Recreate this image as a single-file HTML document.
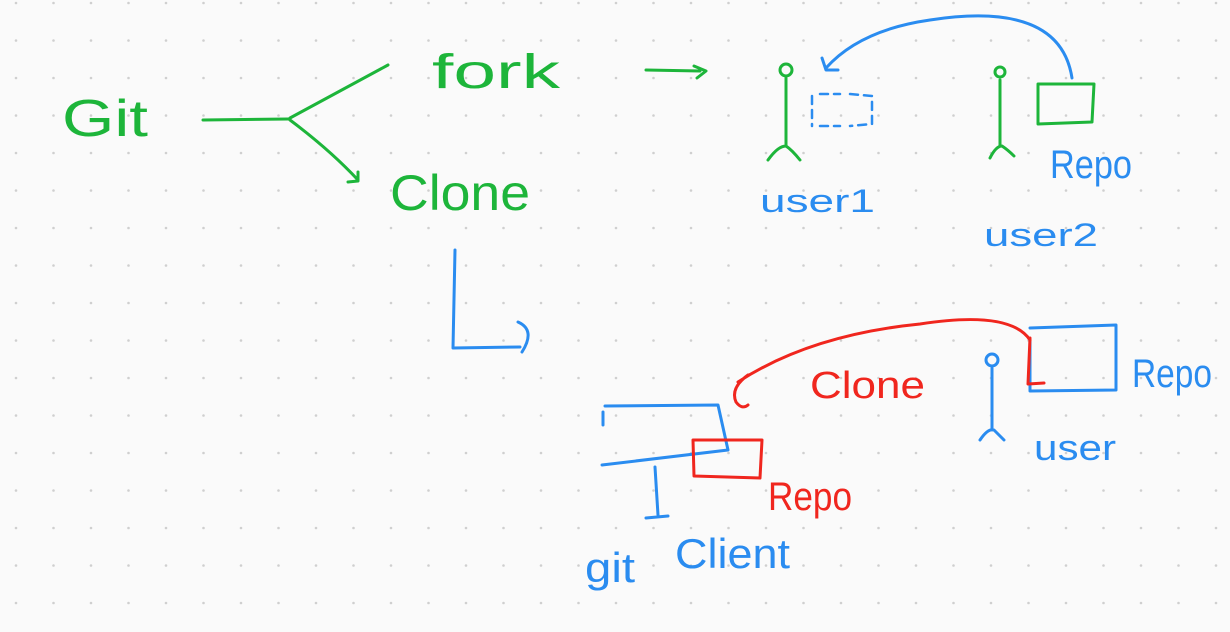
<!DOCTYPE html>
<html><head><style>
html,body{margin:0;padding:0;background:#fafafa;}
svg{display:block}
text{font-family:"Liberation Sans",sans-serif;}
</style></head><body>
<svg width="1230" height="632" viewBox="0 0 1230 632" xmlns="http://www.w3.org/2000/svg">
<defs>
<pattern id="d" x="-2" y="-15" width="37.5" height="37.5" patternUnits="userSpaceOnUse">
<circle cx="18" cy="18" r="1.3" fill="#cfcfcf"/></pattern>
</defs>
<rect width="1230" height="632" fill="url(#d)"/>
<g fill="none" stroke-linecap="round" stroke-linejoin="round" stroke-width="3">
<g stroke="#1db53a">
<path d="M203 120 L288 119 M290 118 L388 65 M290 120 Q330 150 358 180 M348 182 L358 181 L358 172"/>
<path d="M646 70 L700 71 M694 66 L706 71 L697 78"/>
<circle cx="786" cy="70" r="6"/>
<path d="M786 78 L786 146 M768 160 Q778 146 786 146 Q792 150 800 160"/>
<circle cx="1000" cy="72" r="5"/>
<path d="M1000 80 L1000 146 M990 158 Q996 146 1002 146 Q1008 150 1014 156"/>
<path d="M1038 84 L1094 84 L1092 122 L1038 124 Z"/>
</g>
<g stroke="#2a8cf0">
<path d="M455 250 L453 348 L520 347 M518 322 Q536 330 522 352"/>
<path d="M1072 78 Q1060 0 930 20 Q860 30 826 68 M822 58 L826 70 L838 70"/>
<path d="M812 96 L812 126 M820 94 L840 94 M850 94 L872 96 L872 124 L850 126 M820 126 L840 126" stroke-dasharray="8 6" stroke-width="2.5"/>
<path d="M1030 328 L1116 325 L1116 390 L1030 391 L1030 340"/>
<circle cx="992" cy="360" r="6"/>
<path d="M992 368 L992 430 M980 440 Q988 428 994 430 Q998 434 1004 440"/>
<path d="M605 406 L718 405 L728 450 L602 465 M603 412 L603 425"/>
<path d="M655 467 L658 515 M646 518 L668 516"/>
</g>
<g stroke="#f0261e">
<path d="M1030 338 L1028 384 L1044 383"/>
<path d="M1030 340 Q1010 310 920 324 Q810 335 738 382 M748 375 Q730 388 736 402 Q742 410 748 405"/>
<path d="M693 440 L762 440 L760 478 L694 476 Z"/>
</g>
</g>
<g fill="#1db53a">
<text x="62" y="136" font-size="52" textLength="86" lengthAdjust="spacingAndGlyphs">Git</text>
<text x="432" y="88" font-size="48" textLength="128" lengthAdjust="spacingAndGlyphs">fork</text>
<text x="390" y="210" font-size="50" textLength="140" lengthAdjust="spacingAndGlyphs">Clone</text>
</g>
<g fill="#2a8cf0">
<text x="760" y="212" font-size="32" textLength="115" lengthAdjust="spacingAndGlyphs">user1</text>
<text x="984" y="246" font-size="32" textLength="114" lengthAdjust="spacingAndGlyphs">user2</text>
<text x="1050" y="178" font-size="40" textLength="82" lengthAdjust="spacingAndGlyphs">Repo</text>
<text x="1132" y="387" font-size="40" textLength="80" lengthAdjust="spacingAndGlyphs">Repo</text>
<text x="1034" y="460" font-size="36" textLength="82" lengthAdjust="spacingAndGlyphs">user</text>
<text x="585" y="582" font-size="42" textLength="50" lengthAdjust="spacingAndGlyphs">git</text>
<text x="675" y="568" font-size="42" textLength="115" lengthAdjust="spacingAndGlyphs">Client</text>
</g>
<g fill="#f0261e">
<text x="810" y="398" font-size="38" textLength="115" lengthAdjust="spacingAndGlyphs">Clone</text>
<text x="768" y="510" font-size="40" textLength="84" lengthAdjust="spacingAndGlyphs">Repo</text>
</g>
</svg>
</body></html>
